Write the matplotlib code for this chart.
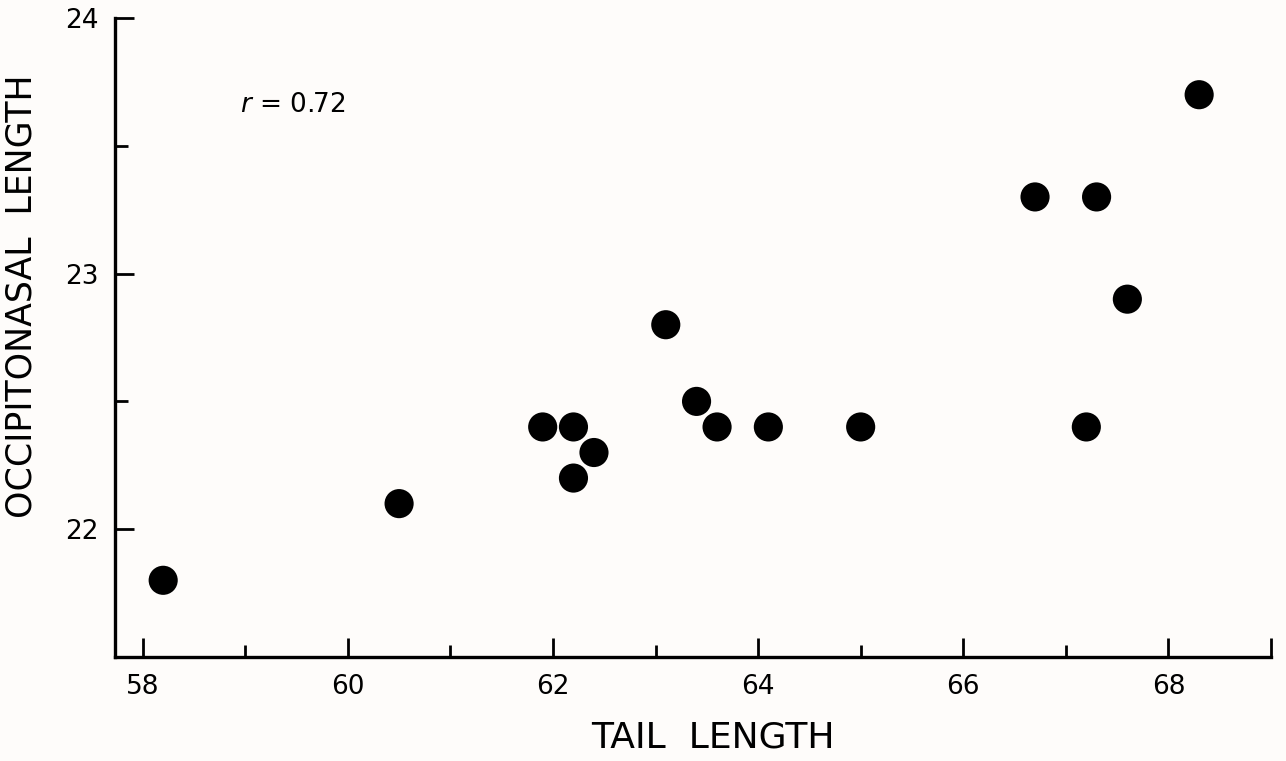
import matplotlib.pyplot as plt

# data
tail_length = [58.2, 60.5, 61.9, 62.2, 62.2, 62.4, 63.1, 63.4, 63.6, 64.1, 65.0,
               66.7, 67.3, 67.6, 67.2, 68.3]
occipitonasal = [21.8, 22.1, 22.4, 22.4, 22.2, 22.3, 22.8, 22.5, 22.4, 22.4, 22.4,
                 23.3, 23.3, 22.9, 22.4, 23.7]

x_major = [58, 60, 62, 64, 66, 68, 69]
x_labels = ['58', '60', '62', '64', '66', '68', '']
x_minor = [59, 61, 63, 65, 67]
y_major = [22, 23, 24]
y_labels = ['22', '23', '24']
y_minor = [22.5, 23.5]
r_text = '$r$ = 0.72'

bg = '#fefcfa'
plt.rcParams['font.family'] = ['DejaVu Sans']

fig = plt.figure(figsize=(12.86, 7.61), dpi=100, facecolor=bg)
ax = fig.add_axes([0.0894, 0.1367, 0.8989, 0.8396], facecolor=bg)

ax.scatter(tail_length, occipitonasal, s=440, color='black', edgecolors='none', zorder=3)

ax.set_xlim(57.73, 69.0)
ax.set_ylim(21.5, 24.0)

for side in ['top', 'right']:
    ax.spines[side].set_visible(False)
for side in ['left', 'bottom']:
    ax.spines[side].set_linewidth(2.4)
    ax.spines[side].set_color('black')

ax.set_xticks(x_major)
ax.set_xticklabels(x_labels)
ax.set_xticks(x_minor, minor=True)
ax.set_yticks(y_major)
ax.set_yticklabels(y_labels)
ax.set_yticks(y_minor, minor=True)

ax.tick_params(axis='both', which='major', direction='in', length=14, width=2,
               labelsize=19, pad=12, color='black')
ax.tick_params(axis='both', which='minor', direction='in', length=9, width=2,
               color='black')

ax.text(58.95, 23.66, r_text, fontsize=19, ha='left', va='center')

ax.set_xlabel('TAIL  LENGTH', fontsize=26)
ax.xaxis.set_label_coords(0.517, -0.1)
ax.set_ylabel('OCCIPITONASAL  LENGTH', fontsize=25)
ax.yaxis.set_label_coords(-0.066, 0.565)

fig.savefig('out.png', dpi=100, facecolor=bg)
